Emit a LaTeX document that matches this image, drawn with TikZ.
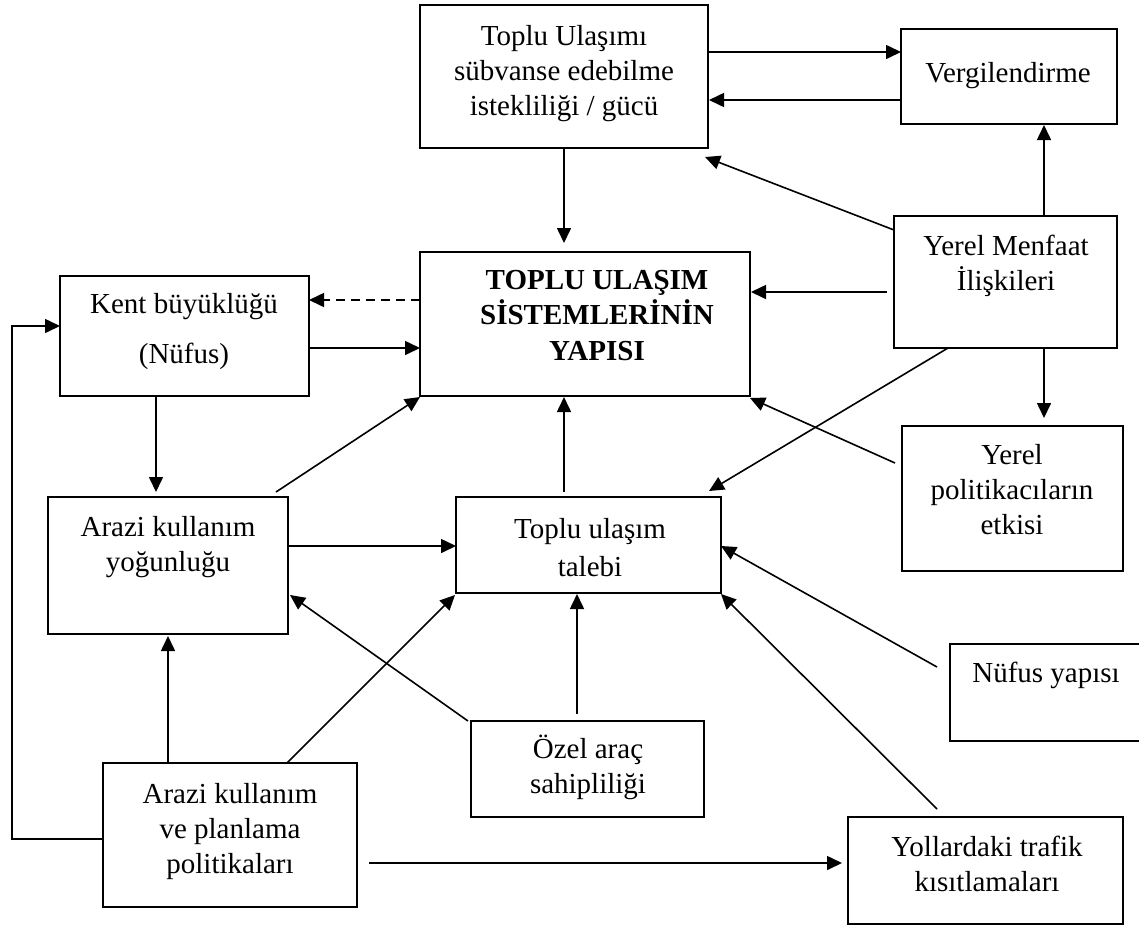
\documentclass[tikz,border=0pt]{standalone}
\usepackage{fontspec}
\setmainfont{Liberation Serif}
\usetikzlibrary{arrows.meta,calc}
\begin{document}
\begin{tikzpicture}[x=1pt,y=-1pt,
  box/.style={draw,line width=2pt,inner sep=0pt,outer sep=0pt,rectangle},
  txt/.style={anchor=north,align=center,inner sep=0pt,font=\fontsize{29}{35}\selectfont},
  arr/.style={line width=1.6pt,-{Triangle[length=15pt,width=14pt]}},
  dsh/.style={arr,dash pattern=on 9pt off 6pt}]
\useasboundingbox (0,0) rectangle (1139,927);
% boxes
\node[box,minimum width=288pt,minimum height=143pt] (b1) at (564,76.5) {};
\node[box,minimum width=216pt,minimum height=95pt] (b2) at (1009,76.5) {};
\node[box,minimum width=330pt,minimum height=144pt] (b3) at (585,324) {};
\node[box,minimum width=249pt,minimum height=120pt] (b4) at (184.5,336) {};
\node[box,minimum width=223pt,minimum height=132pt] (b5) at (1005.5,282) {};
\node[box,minimum width=221pt,minimum height=145pt] (b6) at (1012.5,498.5) {};
\node[box,minimum width=240pt,minimum height=137pt] (b7) at (168,565.5) {};
\node[box,minimum width=265pt,minimum height=96pt] (b8) at (588.5,545) {};
\node[box,minimum width=191pt,minimum height=97pt] (b9) at (1045.5,692.5) {};
\node[box,minimum width=233pt,minimum height=96pt] (b10) at (587.5,769) {};
\node[box,minimum width=254pt,minimum height=144pt] (b11) at (230,835) {};
\node[box,minimum width=275pt,minimum height=107pt] (b12) at (985.5,870.5) {};
% texts
\node[txt] (t1) at (564,25) {Toplu Ulaşımı\\sübvanse edebilme\\istekliliği / gücü};
\node[txt] (t2) at (1008,62) {Vergilendirme};
\node[txt,font=\fontsize{29}{35.5}\selectfont\bfseries] (t3) at (597,270) {TOPLU ULAŞIM\\SİSTEMLERİNİN\\YAPISI};
\node[txt] (t4) at (184,293) {Kent büyüklüğü\\[15pt](Nüfus)};
\node[txt] (t5) at (1006,235) {Yerel Menfaat\\İlişkileri};
\node[txt] (t6) at (1012,444) {Yerel\\politikacıların\\etkisi};
\node[txt] (t7) at (168,516) {Arazi kullanım\\yoğunluğu};
\node[txt] (t8) at (590,518) {Toplu ulaşım\\[3pt]talebi};
\node[txt] (t9) at (1046,662) {Nüfus yapısı};
\node[txt] (t10) at (588,734.5) {Özel araç\\sahipliliği};
\node[txt] (t11) at (230,783) {Arazi kullanım\\ve planlama\\politikaları};
\node[txt] (t12) at (987,836) {Yollardaki trafik\\kısıtlamaları};
% connectors
\draw[arr] ($(b1.east)+(0,-24.5)$) -- ($(b2.west)+(0,-24.5)$);
\draw[arr] ($(b2.west)+(0,23.5)$) -- ($(b1.east)+(1,23.5)$);
\draw[arr] ($(b5.west)+(0,-52)$) -- ($(b1.south east)+(-3,9)$);
\draw[arr] ($(b5.north)+(38.5,0)$) -- ($(b2.south)+(35,1)$);
\draw[arr] (b1.south) -- ($(b1.south |- b3.north)+(0,-9)$);
\draw[arr] ($(b5.west)+(-7,10)$) -- ($(b3.east)+(1,-32)$);
\draw[dsh] ($(b3.west)+(0,-24)$) -- ($(b4.east)+(0,-36)$);
\draw[arr] ($(b4.east)+(0,12)$) -- ($(b3.west)+(0,24)$);
\draw[arr] ($(b4.south)+(-28.5,0)$) -- ($(b7.north)+(-12,-5)$);
\draw[arr] ($(b5.south)+(38.5,0)$) -- ($(b6.north)+(31.5,-8)$);
\draw[arr] ($(b5.south)+(-57.5,0)$) -- ($(b8.north east)+(-12,-6)$);
\draw[arr] ($(b6.west)+(-7,-35.5)$) -- ($(b3.south east)+(0,2)$);
\draw[arr] ($(b7.north east)+(-12,-5)$) -- ($(b3.south west)+(0,1)$);
\draw[arr] ($(b8.north)+(-24.5,-5)$) -- ($(b3.south)+(-21,1)$);
\draw[arr] ($(b7.east)+(0,-19.5)$) -- ($(b8.west)+(0,1)$);
\draw[arr] ($(b10.north west)+(-3,0)$) -- ($(b7.south east)+(2,-39)$);
\draw[arr] ($(b11.north)+(-62,0)$) -- ($(b7.south)+(0,2)$);
\draw[arr] ($(b11.north east)+(-70,0)$) -- ($(b8.south west)+(-1,2)$);
\draw[arr] ($(b10.north)+(-10.5,-7)$) -- ($(b8.south)+(-11.5,1)$);
\draw[arr] ($(b9.west)+(-13,-25.5)$) -- ($(b8.east)+(0,1)$);
\draw[arr] ($(b12.north west)+(89,-8)$) -- ($(b8.south east)+(0,1)$);
\draw[arr] ($(b11.west)+(0,4)$) -| ($(b4.west)+(-48,-10)$) -- ($(b4.west)+(0,-10)$);
\draw[arr] ($(b11.east)+(12,28)$) -- ($(b12.west)+(-6,-7.5)$);
\end{tikzpicture}
\end{document}
